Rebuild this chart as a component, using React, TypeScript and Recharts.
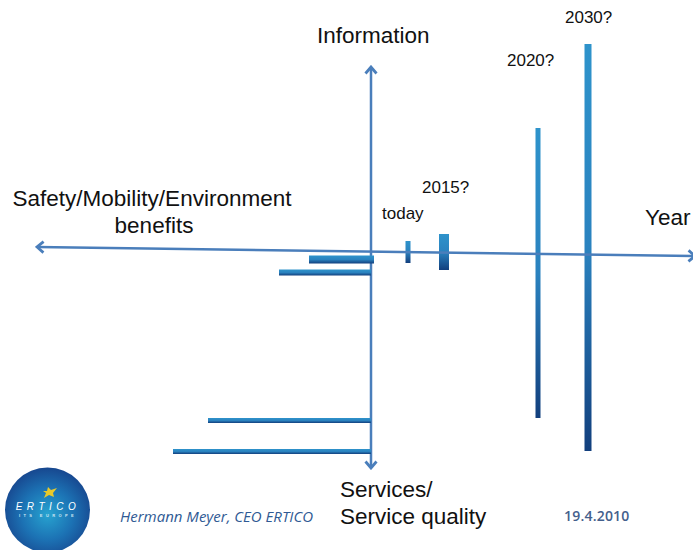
import { Bar, ComposedChart, Line, XAxis, YAxis } from 'recharts';

// origin of both axes is where the two arrows cross
const years = ['today', '2015?', '2020?', '2030?'];
const yearPosition = [37, 73, 167, 217];
const yearHigh = [9, 16, 122, 206];
const yearLow = [-13, -20, -168, -201];

const benefitRow = [-9, -22, -170, -201];
const benefitLeft = [-62, -92, -163, -198];
const benefitRight = [3, 0, 0, 0];

const horizontalAxisX = [-334, 324];
const horizontalAxisY = [3, -6];
const verticalAxisX = [0, 0];
const verticalAxisY = [183, -218];

const yearData = years.map((name, i) => ({
  name,
  x: yearPosition[i],
  range: [yearLow[i], yearHigh[i]],
}));
const benefitData = benefitRow.map((y, i) => ({
  y,
  range: [benefitLeft[i], benefitRight[i]],
}));
const horizontalAxis = horizontalAxisX.map((x, i) => ({ x, y: horizontalAxisY[i] }));
const verticalAxis = verticalAxisX.map((x, i) => ({ x, y: verticalAxisY[i] }));

const WIDTH = 693;
const HEIGHT = 550;
const X_DOMAIN = [-371, 322];
const Y_DOMAIN = [-300, 250];
const MARGIN = { top: 0, right: 0, bottom: 0, left: 0 };
const AXIS_BLUE = '#4a7ebb';
const ARIAL = '"Liberation Sans", Arial, sans-serif';

const yearBarWidths = [5, 10, 5, 7];
const benefitBarHeights = [8, 6, 5, 5];

function YearBar(props: any) {
  const w = yearBarWidths[props.index];
  return (
    <rect
      x={props.x + props.width / 2 - w / 2}
      y={props.y}
      width={w}
      height={props.height}
      fill="url(#barFill)"
    />
  );
}

function BenefitBar(props: any) {
  const h = benefitBarHeights[props.index];
  return (
    <rect
      x={props.x}
      y={props.y + props.height / 2 - h / 2}
      width={props.width}
      height={h}
      fill="url(#barFill)"
    />
  );
}

function BarGradient() {
  return (
    <linearGradient id="barFill" x1="0" y1="0" x2="0" y2="1">
      <stop offset="0%" stopColor="#2e93cb" />
      <stop offset="50%" stopColor="#2a82bf" />
      <stop offset="100%" stopColor="#123f7d" />
    </linearGradient>
  );
}

function Title({ x, y, size = 22.5, anchor = 'start', children }: any) {
  return (
    <text x={x} y={y} fontSize={size} fontFamily={ARIAL} fill="#111" textAnchor={anchor}>
      {children}
    </text>
  );
}

function Logo() {
  return (
    <g>
      <circle cx={47.5} cy={510} r={42.5} fill="url(#logoFill)" />
      <polygon
        points="48,487 51,490 57,488 53,493 54,497 49,495 44,498 46,493 43,491 47,491"
        fill="#e8c92a"
      />
      <text
        x={48}
        y={510}
        fontSize={10}
        fontFamily={ARIAL}
        fontStyle="italic"
        letterSpacing={4.5}
        fill="#fff"
        textAnchor="middle"
      >
        ERTICO
      </text>
      <text
        x={48}
        y={517}
        fontSize={4}
        fontFamily={ARIAL}
        fontWeight="bold"
        letterSpacing={3.4}
        fill="#cfe6f2"
        textAnchor="middle"
      >
        ITS EUROPE
      </text>
    </g>
  );
}

export default function App() {
  const layer = { position: 'absolute', left: 0, top: 0 } as const;

  return (
    <div style={{ position: 'absolute', left: 0, top: 0, width: WIDTH, height: HEIGHT, overflow: 'hidden', background: '#fff' }}>
      <div style={layer}>
        <ComposedChart width={WIDTH} height={HEIGHT} data={yearData} margin={MARGIN}>
          <defs>
            <BarGradient />
            <radialGradient id="logoFill" cx="50%" cy="55%" r="55%">
              <stop offset="0%" stopColor="#27a3d0" />
              <stop offset="55%" stopColor="#1c72b4" />
              <stop offset="100%" stopColor="#17478f" />
            </radialGradient>
            <marker
              id="chevron"
              viewBox="-9 -7 11 14"
              refX={0}
              refY={0}
              markerWidth={11}
              markerHeight={14}
              markerUnits="userSpaceOnUse"
              orient="auto-start-reverse"
            >
              <path d="M-6.5,-5.5 L0,0 L-6.5,5.5" fill="none" stroke={AXIS_BLUE} strokeWidth={2.8} />
            </marker>
          </defs>
          <XAxis hide type="number" dataKey="x" domain={X_DOMAIN} allowDataOverflow />
          <YAxis hide type="number" domain={Y_DOMAIN} allowDataOverflow />
          <Line
            data={horizontalAxis}
            dataKey="y"
            stroke={AXIS_BLUE}
            strokeWidth={2.5}
            dot={false}
            isAnimationActive={false}
            markerStart="url(#chevron)"
            markerEnd="url(#chevron)"
          />
          <Line
            data={verticalAxis}
            dataKey="y"
            stroke={AXIS_BLUE}
            strokeWidth={2.5}
            dot={false}
            isAnimationActive={false}
            markerStart="url(#chevron)"
            markerEnd="url(#chevron)"
          />
          <Bar dataKey="range" barSize={10} shape={YearBar} isAnimationActive={false} />
        </ComposedChart>
      </div>
      <div style={layer}>
        <ComposedChart width={WIDTH} height={HEIGHT} layout="vertical" data={benefitData} margin={MARGIN}>
          <defs>
            <BarGradient />
          </defs>
          <XAxis hide type="number" domain={X_DOMAIN} allowDataOverflow />
          <YAxis hide reversed type="number" dataKey="y" domain={Y_DOMAIN} allowDataOverflow />
          <Bar dataKey="range" barSize={10} shape={BenefitBar} isAnimationActive={false} />
          <Title x={317} y={43}>Information</Title>
          <Title x={152} y={206} anchor="middle">Safety/Mobility/Environment</Title>
          <Title x={154} y={233} anchor="middle">benefits</Title>
          <Title x={645} y={225}>Year</Title>
          <Title x={340} y={497}>Services/</Title>
          <Title x={340} y={524}>Service quality</Title>
          <Title x={382} y={219} size={17}>{years[0]}</Title>
          <Title x={422} y={193} size={17}>{years[1]}</Title>
          <Title x={507} y={66} size={17}>{years[2]}</Title>
          <Title x={565} y={23} size={17}>{years[3]}</Title>
          <text x={120} y={522} fontSize={15} fontFamily='"Open Sans", sans-serif' fontStyle="italic" fill="#2f5a94">
            Hermann Meyer,  CEO ERTICO
          </text>
          <text x={564} y={521} fontSize={14} fontFamily='"Open Sans", sans-serif' fontWeight={600} letterSpacing={0.2} fill="#44608c">
            19.4.2010
          </text>
          <Logo />
        </ComposedChart>
      </div>
    </div>
  );
}
